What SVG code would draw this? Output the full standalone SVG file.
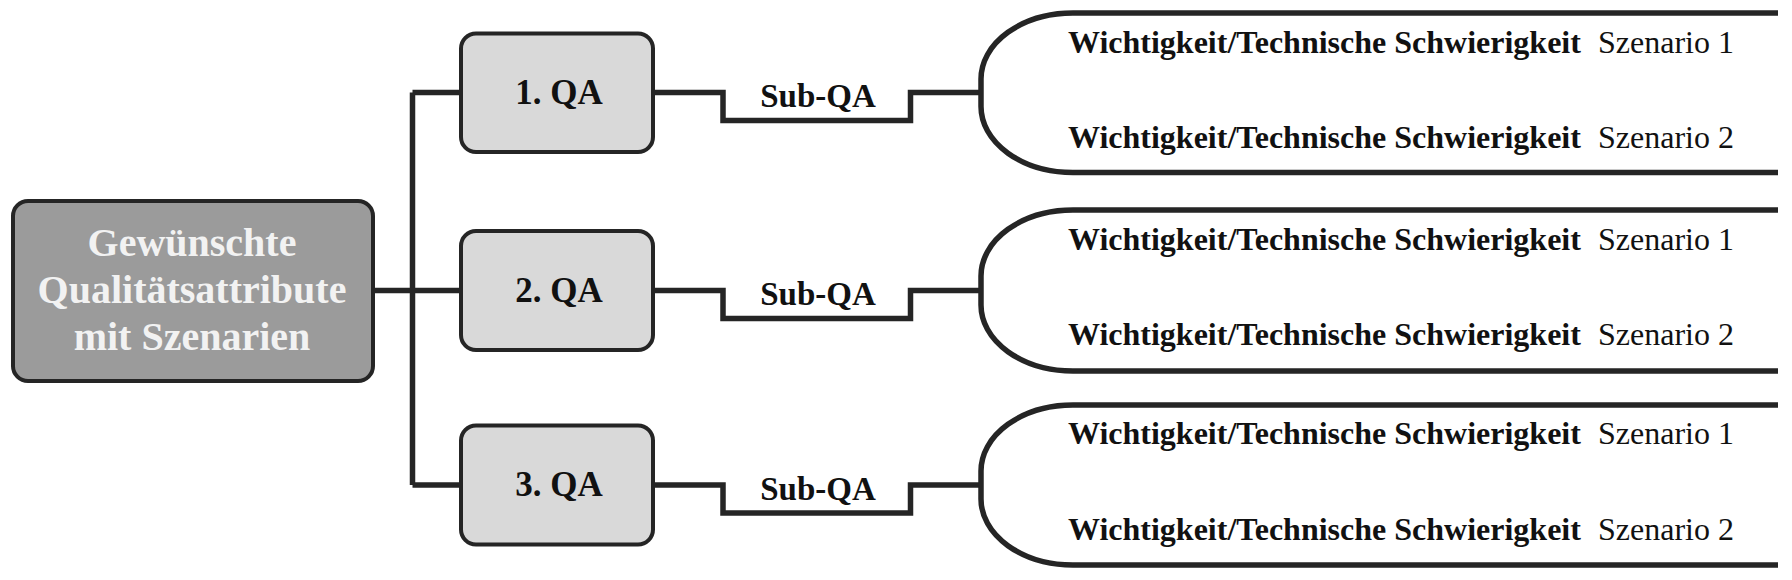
<svg xmlns="http://www.w3.org/2000/svg" width="1792" height="580" viewBox="0 0 1792 580">
<style>
.ln{fill:none;stroke:#252525;stroke-width:5.5;stroke-linejoin:miter}
.br{fill:none;stroke:#252525;stroke-width:5.5}
.qa{fill:#d9d9d9;stroke:#252525;stroke-width:4}
.main{fill:#9b9b9b;stroke:#252525;stroke-width:4}
text{font-family:"Liberation Serif","Times New Roman",serif}
.mt{font-size:40px;font-weight:bold;fill:#f2f2f2;text-anchor:middle}
.qt{font-size:35px;font-weight:bold;fill:#111;text-anchor:middle}
.st{font-size:33px;font-weight:bold;fill:#111;text-anchor:middle}
.wt{font-size:32px;font-weight:bold;fill:#111}
.sz{font-size:32px;fill:#111}
</style>
<rect width="1792" height="580" fill="#ffffff"/>
<g id="connectors">
<path class="ln" d="M373,290.5 H412.5 M412.5,92.5 V485 M412.5,92.5 H461 M412.5,290.5 H461 M412.5,485 H461"/>
<path class="ln" d="M653,92.5 H723 V120.5 H910.5 V92.5 H981"/>
<path class="ln" d="M653,290.5 H723 V318.5 H910.5 V290.5 H981"/>
<path class="ln" d="M653,485 H723 V513 H910.5 V485 H981"/>
</g>
<g id="main">
<rect class="main" x="13" y="201" width="360" height="180" rx="15"/>
<text class="mt" x="192" y="256">Gewünschte</text>
<text class="mt" x="192" y="303">Qualitätsattribute</text>
<text class="mt" x="192" y="350">mit Szenarien</text>
</g>
<g id="qa1">
<rect class="qa" x="461" y="33.5" width="192" height="118.5" rx="15"/>
<text class="qt" x="559" y="104">1. QA</text>
</g>
<g id="qa2">
<rect class="qa" x="461" y="231" width="192" height="119" rx="15"/>
<text class="qt" x="559" y="302">2. QA</text>
</g>
<g id="qa3">
<rect class="qa" x="461" y="425.5" width="192" height="119" rx="15"/>
<text class="qt" x="559" y="496">3. QA</text>
</g>
<g id="sub1"><text class="st" x="818" y="107">Sub-QA</text></g>
<g id="sub2"><text class="st" x="818" y="305">Sub-QA</text></g>
<g id="sub3"><text class="st" x="818" y="500">Sub-QA</text></g>
<g id="group1">
<path class="br" d="M1778,13 H1073 A92,66 0 0 0 981,79 V106.5 A92,66 0 0 0 1073,172.5 H1778"/>
<text class="wt" x="1068" y="53">Wichtigkeit/Technische Schwierigkeit</text>
<text class="sz" x="1598" y="53">Szenario 1</text>
<text class="wt" x="1068" y="148">Wichtigkeit/Technische Schwierigkeit</text>
<text class="sz" x="1598" y="148">Szenario 2</text>
</g>
<g id="group2">
<path class="br" d="M1778,210 H1073 A92,66 0 0 0 981,276 V305 A92,66 0 0 0 1073,371 H1778"/>
<text class="wt" x="1068" y="250">Wichtigkeit/Technische Schwierigkeit</text>
<text class="sz" x="1598" y="250">Szenario 1</text>
<text class="wt" x="1068" y="345">Wichtigkeit/Technische Schwierigkeit</text>
<text class="sz" x="1598" y="345">Szenario 2</text>
</g>
<g id="group3">
<path class="br" d="M1778,405 H1073 A92,66 0 0 0 981,471 V499 A92,66 0 0 0 1073,565 H1778"/>
<text class="wt" x="1068" y="444">Wichtigkeit/Technische Schwierigkeit</text>
<text class="sz" x="1598" y="444">Szenario 1</text>
<text class="wt" x="1068" y="540">Wichtigkeit/Technische Schwierigkeit</text>
<text class="sz" x="1598" y="540">Szenario 2</text>
</g>
</svg>
